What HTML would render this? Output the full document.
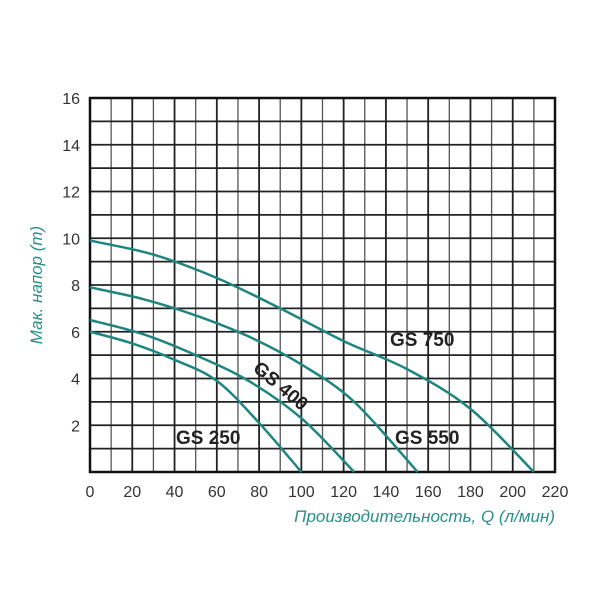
<!DOCTYPE html>
<html><head><meta charset="utf-8"><style>body{margin:0;background:#fff}svg{display:block}</style></head>
<body>
<svg id="chart" width="600" height="600" viewBox="0 0 600 600" xmlns="http://www.w3.org/2000/svg" font-family="Liberation Sans, sans-serif">
<g id="grid"></g>
<g id="curves"></g>
<g id="labels"></g>
<text transform="translate(42,285) rotate(-90)" text-anchor="middle" font-size="17" font-style="italic" fill="#2a8f8a">Мак. напор (m)</text>
<text x="555" y="522" text-anchor="end" font-size="17" font-style="italic" fill="#2a8f8a">Производительность, Q (л/мин)</text>
</svg>
<script>
const xTicks=[0,20,40,60,80,100,120,140,160,180,200,220];
const yTicks=[2,4,6,8,10,12,14,16];
const gs750Q=[0,30,60,90,120,150,180,210];
const gs750H=[9.9,9.3,8.3,7.0,5.6,4.4,2.7,0];
const gs550Q=[0,25,50,75,100,125,155];
const gs550H=[7.9,7.4,6.7,5.8,4.6,3.0,0];
const gs400Q=[0,25,50,75,100,125];
const gs400H=[6.5,5.9,5.0,3.9,2.3,0];
const gs250Q=[0,20,40,60,80,100];
const gs250H=[6.0,5.5,4.8,3.9,2.1,0];
const L=90,R=555,T=98,B=472;
const x=v=>L+(v/220)*(R-L), y=v=>B-(v/16)*(B-T);
const ns="http://www.w3.org/2000/svg";
function mk(tag,attrs,parent,txt){const e=document.createElementNS(ns,tag);for(const k in attrs)e.setAttribute(k,attrs[k]);if(txt!=null)e.textContent=txt;parent.appendChild(e);return e;}
const g=document.getElementById('grid');
for(let v=0;v<=220;v+=10){const l=mk('line',{x1:x(v),x2:x(v),y1:T,y2:B,stroke:v%20===0?'#222':'#555','stroke-width':v%20===0?1.8:1.3},g);

}
for(let v=0;v<=16;v++){const l=mk('line',{x1:L,x2:R,y1:y(v),y2:y(v),stroke:'#222','stroke-width':1.8},g);

}
const fr=mk('rect',{x:L,y:T,width:R-L,height:B-T,fill:'none',stroke:'#111','stroke-width':2.5},g);


const lb=document.getElementById('labels');
xTicks.forEach(v=>{const t=mk('text',{x:x(v),y:497,'text-anchor':'middle','font-size':16,fill:'#333'},lb,v);

});
yTicks.forEach(v=>{const t=mk('text',{x:80,y:y(v)+6,'text-anchor':'end','font-size':16,fill:'#333'},lb,v);

});
const cg=document.getElementById('curves');
function curve(Q,H,name){const pts=Q.map((q,i)=>[x(q),y(H[i])]);let d='M'+pts[0];
for(let i=0;i<pts.length-1;i++){const p0=pts[i-1]||pts[i],p1=pts[i],p2=pts[i+1],p3=pts[i+2]||p2;
d+=' C'+(p1[0]+(p2[0]-p0[0])/6)+','+(p1[1]+(p2[1]-p0[1])/6)+' '+(p2[0]-(p3[0]-p1[0])/6)+','+(p2[1]-(p3[1]-p1[1])/6)+' '+p2;}
const p=mk('path',{d:d,fill:'none',stroke:'#1f8580','stroke-width':2.5},cg);

}
curve(gs750Q,gs750H,'curve-gs750');curve(gs550Q,gs550H,'curve-gs550');
curve(gs400Q,gs400H,'curve-gs400');curve(gs250Q,gs250H,'curve-gs250');
const labs=[['GS 750',390,346,0,'label-gs750'],['GS 550',395,444,0,'label-gs550'],['GS 250',176,444,0,'label-gs250'],['GS 400',252,370,40,'label-gs400']];
labs.forEach(a=>{const t=mk('text',{x:a[1],y:a[2],'font-size':19,'font-weight':'bold',fill:'#222',transform:'rotate('+a[3]+' '+a[1]+' '+a[2]+')'},lb,a[0]);

});
</script>
</body></html>
